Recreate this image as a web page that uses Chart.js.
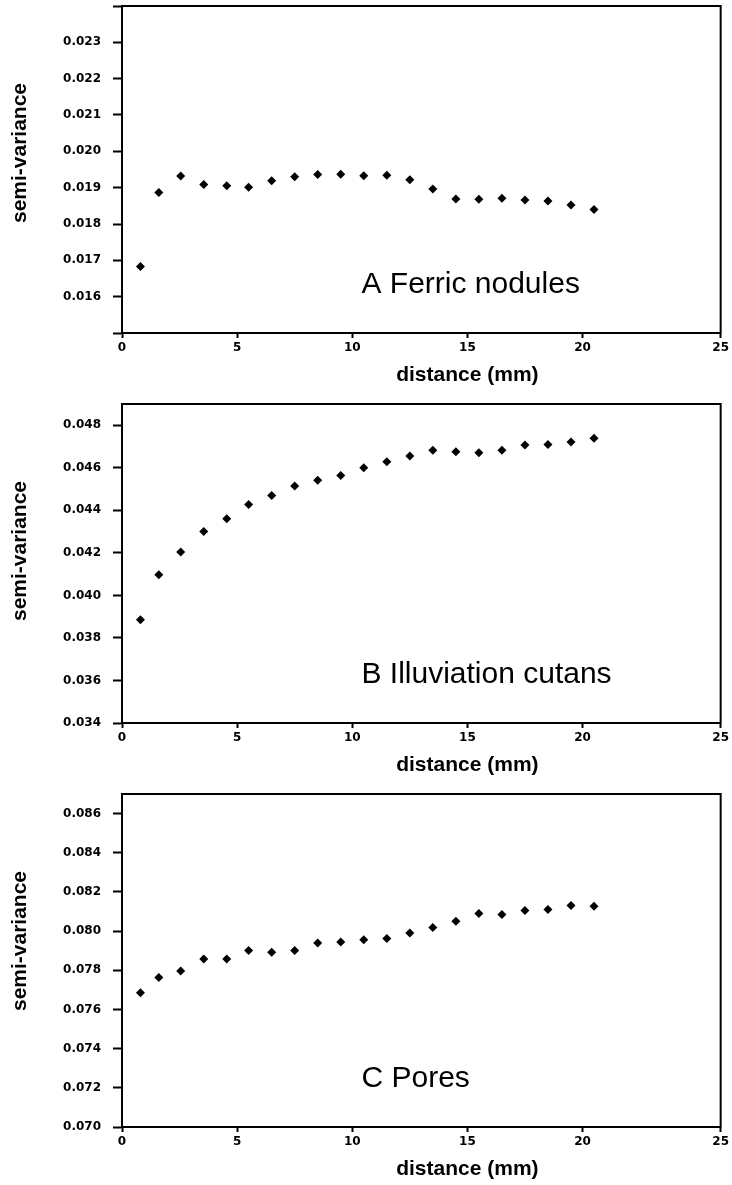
<!DOCTYPE html>
<html>
<head>
<meta charset="utf-8">
<script src="https://cdn.jsdelivr.net/npm/chart.js@4.4.1/dist/chart.umd.min.js"></script>
<style>
  body { margin: 0; background: #fff; }
  .panel { position: absolute; left: 0; width: 732px; }
</style>
</head>
<body>
<div class="panel" style="top:0"><canvas id="chartA" width="732" height="390"></canvas></div>
<div class="panel" style="top:390px"><canvas id="chartB" width="732" height="390"></canvas></div>
<div class="panel" style="top:780px"><canvas id="chartC" width="732" height="405"></canvas></div>
<script>
// lag distances (mm), same for the three panels
const distance = [0.8, 1.6, 2.55, 3.55, 4.55, 5.5, 6.5, 7.5, 8.5, 9.5, 10.5, 11.5, 12.5, 13.5, 14.5, 15.5, 16.5, 17.5, 18.5, 19.5, 20.5];

// semi-variance values
const ferric = [0.01683, 0.01887, 0.01932, 0.01909, 0.01905, 0.01901, 0.01919, 0.01930, 0.01936, 0.01937, 0.01933, 0.01934, 0.01922, 0.01896, 0.01869, 0.01868, 0.01871, 0.01866, 0.01863, 0.01852, 0.01840];
const illuviation = [0.03885, 0.04097, 0.04204, 0.04301, 0.04361, 0.04427, 0.04470, 0.04514, 0.04541, 0.04564, 0.04600, 0.04629, 0.04655, 0.04682, 0.04676, 0.04671, 0.04683, 0.04707, 0.04710, 0.04721, 0.04739];
const pores = [0.07685, 0.07763, 0.07797, 0.07858, 0.07858, 0.07901, 0.07892, 0.07901, 0.07939, 0.07944, 0.07956, 0.07962, 0.07990, 0.08019, 0.08050, 0.08090, 0.08085, 0.08105, 0.08110, 0.08131, 0.08127];

// x axis ticks (the last one sits on the frame edge in the original)
const xTicks = [0, 5, 10, 15, 20, 26];
const xTickLabels = ['0', '5', '10', '15', '20', '25'];

const yTicksA = [0.015, 0.016, 0.017, 0.018, 0.019, 0.020, 0.021, 0.022, 0.023, 0.024];
const yLabelsA = ['', '0.016', '0.017', '0.018', '0.019', '0.020', '0.021', '0.022', '0.023', ''];
const yTicksB = [0.034, 0.036, 0.038, 0.040, 0.042, 0.044, 0.046, 0.048];
const yLabelsB = ['0.034', '0.036', '0.038', '0.040', '0.042', '0.044', '0.046', '0.048'];
const yTicksC = [0.070, 0.072, 0.074, 0.076, 0.078, 0.080, 0.082, 0.084, 0.086];
const yLabelsC = ['0.070', '0.072', '0.074', '0.076', '0.078', '0.080', '0.082', '0.084', '0.086'];

const tickFont = { family: '"DejaVu Sans", sans-serif', size: 12, weight: 'bold' };

const panelText = {
  id: 'panelText',
  afterDraw(chart, args, opts) {
    const ctx = chart.ctx;
    const a = chart.chartArea;
    const x = chart.scales.x;
    ctx.save();
    ctx.strokeStyle = '#000';
    ctx.lineWidth = 2;
    ctx.strokeRect(a.left, a.top, a.right - a.left, a.bottom - a.top);
    ctx.fillStyle = '#000';
    ctx.font = 'bold 21px "Liberation Sans", Arial, sans-serif';
    ctx.textAlign = 'center';
    ctx.textBaseline = 'middle';
    ctx.fillText('distance (mm)', x.getPixelForValue(15), a.bottom + 42);
    ctx.save();
    ctx.translate(20, a.top + 147);
    ctx.rotate(-Math.PI / 2);
    ctx.fillText('semi-variance', 0, 0);
    ctx.restore();
    ctx.font = '30px "Liberation Sans", Arial, sans-serif';
    ctx.textAlign = 'left';
    ctx.textBaseline = 'alphabetic';
    ctx.fillText(opts.label, x.getPixelForValue(10.4), a.bottom - 40);
    ctx.restore();
  }
};

function makeChart(id, values, yTicks, yLabels, yMin, yMax, label, padTop, axisH) {
  const ctx = document.getElementById(id).getContext('2d');
  return new Chart(ctx, {
    type: 'scatter',
    data: {
      datasets: [{
        data: distance.map((d, i) => ({ x: d, y: values[i] })),
        pointStyle: 'rectRot',
        pointRadius: 4.5,
        backgroundColor: '#000',
        borderColor: '#000',
        borderWidth: 0,
        showLine: false
      }]
    },
    options: {
      responsive: false,
      animation: false,
      layout: { padding: { top: padTop, right: 10, left: 0, bottom: 0 } },
      plugins: {
        legend: { display: false },
        tooltip: { enabled: false },
        panelText: { label: label }
      },
      scales: {
        x: {
          type: 'linear',
          min: 0,
          max: 26,
          afterBuildTicks: s => { s.ticks = xTicks.map(v => ({ value: v })); },
          afterFit: s => { s.height = axisH; },
          ticks: {
            callback: (v, i) => xTickLabels[i],
            font: tickFont,
            color: '#000',
            padding: 3,
            maxRotation: 0,
            autoSkip: false
          },
          grid: { drawOnChartArea: false, drawTicks: true, tickLength: 5, tickColor: '#000', tickWidth: 2 },
          border: { display: true, color: '#000', width: 2 }
        },
        y: {
          min: yMin,
          max: yMax,
          afterBuildTicks: s => { s.ticks = yTicks.map(v => ({ value: v })); },
          afterFit: s => {
            s.width = 122;
            s.paddingTop = 0;
            s.paddingBottom = 0;
          },
          ticks: {
            callback: (v, i) => yLabels[i],
            font: tickFont,
            color: '#000',
            padding: 12,
            autoSkip: false
          },
          grid: { drawOnChartArea: false, drawTicks: true, tickLength: 9, tickColor: '#000', tickWidth: 2 },
          border: { display: true, color: '#000', width: 2 }
        }
      }
    },
    plugins: [panelText]
  });
}

makeChart('chartA', ferric, yTicksA, yLabelsA, 0.015, 0.024, 'A Ferric nodules', 6, 57);
makeChart('chartB', illuviation, yTicksB, yLabelsB, 0.034, 0.049, 'B Illuviation cutans', 14, 57);
makeChart('chartC', pores, yTicksC, yLabelsC, 0.070, 0.087, 'C Pores', 14, 58);
</script>
</body>
</html>
